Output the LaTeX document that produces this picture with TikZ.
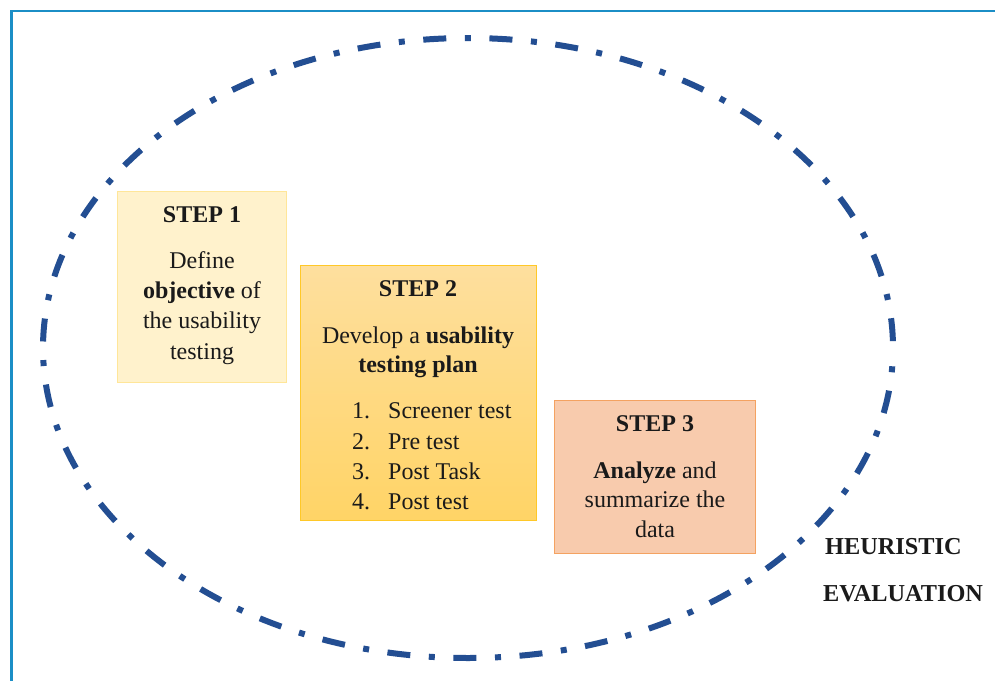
\documentclass[tikz,border=0pt]{standalone}
\usepackage{fontspec}
\setmainfont{Liberation Serif}
\definecolor{framecol}{HTML}{1B8EC6}
\definecolor{ringcol}{HTML}{234E92}
\definecolor{txtcol}{HTML}{1A1A1A}
\tikzset{
  frameline/.style={draw=framecol,line width=2.4pt},
  ring/.style={draw=ringcol,line width=6pt,dash pattern=on 23pt off 18.6pt on 6pt off 18.6pt,dash phase=23.3pt},
  stepbox/.style={minimum width=#1,inner sep=0pt,line width=1.2pt,anchor=north west},
  line/.style={anchor=base,inner sep=0pt,text=txtcol,font=\fontsize{24}{28}\selectfont},
  headline/.style={anchor=base,inner sep=0pt,text=txtcol,font=\fontsize{24}{28}\selectfont\bfseries},
  sideline/.style={anchor=base west,inner sep=0pt,text=txtcol,font=\fontsize{24.3}{28}\selectfont\bfseries},
  itemline/.style={anchor=base west,inner sep=0pt,text=txtcol,font=\fontsize{24}{28}\selectfont},
}
\begin{document}
\begin{tikzpicture}[x=1pt,y=-1pt]
\useasboundingbox (0,0) rectangle (995,680);
\fill[white] (0,0) rectangle (995,680);
\draw[frameline] (996,11) -- (11.5,11) -- (11.5,681);
\draw[ring] (468,348) ellipse [x radius=425,y radius=310];
% boxes
\node[stepbox=169pt,minimum height=191pt,fill={rgb,255:red,255;green,242;blue,204},draw={rgb,255:red,255;green,230;blue,153}] (b1) at (117,191) {};
\node[stepbox=236pt,minimum height=255pt,top color={rgb,255:red,254;green,223;blue,158},bottom color={rgb,255:red,255;green,212;blue,102},draw={rgb,255:red,255;green,200;blue,40}] (b2) at (300,265) {};
\node[stepbox=201pt,minimum height=153pt,fill={rgb,255:red,248;green,203;blue,173},draw={rgb,255:red,244;green,162;blue,97}] (b3) at (554,400) {};
% step 1
\node[headline] (s1h) at (202,222) {STEP 1};
\node[line] (s1a) at (202,268) {Define};
\node[line] (s1b) at (202,298) {\textbf{objective} of};
\node[line] (s1c) at (202,328) {the usability};
\node[line] (s1d) at (202,359) {testing};
% step 2
\node[headline] (s2h) at (418,296) {STEP 2};
\node[line] (s2a) at (418,343) {Develop a \textbf{usability}};
\node[line,font=\fontsize{24}{28}\selectfont\bfseries] (s2b) at (418,372) {testing plan};
\node[itemline] (n1) at (352,418) {1.};
\node[itemline] (i1) at (388,418) {Screener test};
\node[itemline] (n2) at (352,449) {2.};
\node[itemline] (i2) at (388,449) {Pre test};
\node[itemline] (n3) at (352,479) {3.};
\node[itemline] (i3) at (388,479) {Post Task};
\node[itemline] (n4) at (352,509) {4.};
\node[itemline] (i4) at (388,509) {Post test};
% step 3
\node[headline] (s3h) at (655,431) {STEP 3};
\node[line] (s3a) at (655,478) {\textbf{Analyze} and};
\node[line] (s3b) at (655,507) {summarize the};
\node[line] (s3c) at (655,537) {data};
% side label
\node[sideline] (h1) at (825,554) {HEURISTIC};
\node[sideline] (h2) at (823,601) {EVALUATION};
\end{tikzpicture}
\end{document}
